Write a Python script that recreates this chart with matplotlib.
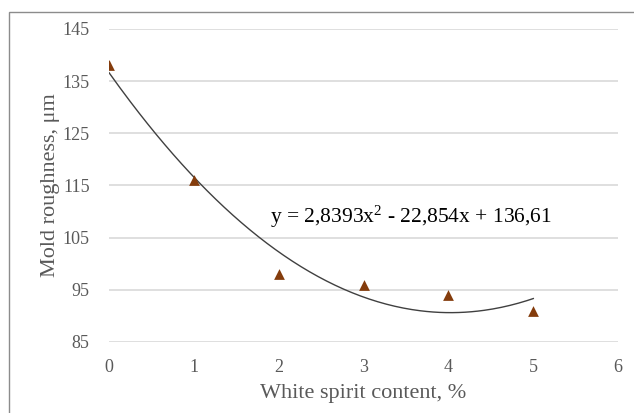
import numpy as np
import matplotlib
matplotlib.use('Agg')
import matplotlib.pyplot as plt
from matplotlib.patches import Rectangle

# white spirit content, % vs mold roughness, um
content = [0, 1, 2, 3, 4, 5]
roughness = [138, 116, 98, 96, 94, 91]
y_ticks = [85, 95, 105, 115, 125, 135, 145]
x_ticks = [0, 1, 2, 3, 4, 5, 6]

plt.rcParams['font.family'] = ['Liberation Serif', 'DejaVu Serif']
plt.rcParams['mathtext.fontset'] = 'custom'
plt.rcParams['mathtext.rm'] = 'Liberation Serif'
plt.rcParams['mathtext.it'] = 'Liberation Serif:italic'
plt.rcParams['mathtext.default'] = 'rm'

fig = plt.figure(figsize=(6.34, 4.13), dpi=100)
ax = fig.add_axes([0.172, 0.172, 0.803, 0.758])

# chart frame (left and top visible)
fig.patches.append(Rectangle((9 / 634, -0.1), 1.2, 1 - 12 / 413 + 0.1,
                             transform=fig.transFigure, fill=False,
                             edgecolor='#8c8c8c', linewidth=1.0))

# 2nd order trendline
coef = np.polyfit(content, roughness, 2)
xs = np.linspace(content[0], content[-1], 200)
ax.plot(xs, np.polyval(coef, xs), color='#404040', linewidth=1.0, zorder=2)

ax.scatter(content, roughness, marker='^', s=60, color='#843C0C', zorder=3,
           linewidths=0)

ax.text(1.90, 109.0, 'y = 2,8393x$^{2}$ - 22,854x + 136,61', fontsize=15.5,
        color='black', ha='left', va='center')

ax.set_xlim(0, 6)
ax.set_ylim(85, 145)
ax.set_xticks(x_ticks)
ax.set_yticks(y_ticks)
ax.grid(True, axis='y', color='#d9d9d9', linewidth=1.2)
ax.set_axisbelow(True)
for s in ax.spines.values():
    s.set_visible(False)
ax.tick_params(length=0, labelsize=13, labelcolor='#595959', pad=12)
ax.tick_params(axis='y', pad=14)

ax.set_xlabel('White spirit content, %', fontsize=16, color='#595959', labelpad=6)
ax.set_ylabel('Mold roughness, μm', fontsize=16, color='#595959', labelpad=2)

fig.savefig('out.png', dpi=100)
